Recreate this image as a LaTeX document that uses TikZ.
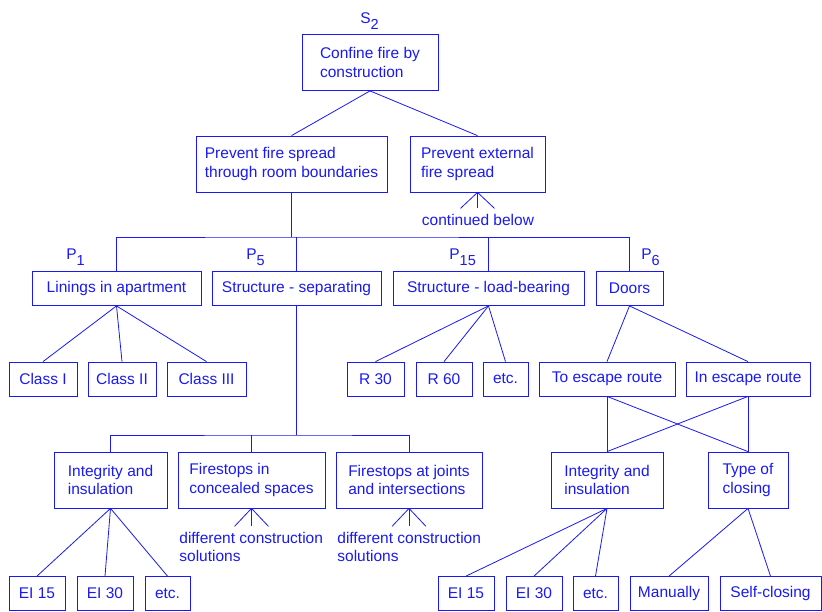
\documentclass[tikz,border=0pt]{standalone}
\usepackage{fontspec}
\setmainfont{Liberation Sans}
\usetikzlibrary{positioning}
\definecolor{fireblue}{RGB}{25,25,245}
\newcommand{\lowsub}[1]{\raisebox{-6pt}{\fontsize{14.5}{14.5}\selectfont #1}}

\begin{document}
\begin{tikzpicture}[x=1pt,y=-1pt,color=fireblue,line width=0.8pt,
    font=\fontsize{15.5}{18.3}\selectfont,
    box/.style={draw,align=left,inner sep=0pt},
    tall/.style={box,minimum height=56pt},
    flat/.style={box,minimum height=34pt},
    tag/.style={inner sep=0pt,anchor=base west}]
  \useasboundingbox (0,0) rectangle (822,611);

  % top of the tree
  \node[tag]                     (s2)      at (360,23)     {S\lowsub{2}};
  \node[tall,minimum width=136pt] (confine) at (370,62.5)   {Confine fire by\\construction};
  \node[tall,minimum width=191pt] (roomb)   at (291.5,164)  {Prevent fire spread\\through room boundaries};
  \node[tall,minimum width=135pt] (extern)  at (477.5,164)  {Prevent external\\fire spread};
  \node[inner sep=0pt]           (contd)   at (478,220)    {continued below};

  % P level
  \node[flat,minimum width=169pt] (linings) at (116.5,288.5) {Linings in apartment};
  \node[flat,minimum width=169pt] (sepa)    at (296.5,288.5) {Structure - separating};
  \node[flat,minimum width=191pt] (loadb)   at (488.5,288.5) {Structure - load-bearing};
  \node[flat,minimum width=67pt]  (doors)   at (629.5,288.5) {Doors};
  \node[tag] (p1)  at (66,259)  {P\lowsub{1}};
  \node[tag] (p5)  at (246,259) {P\lowsub{5}};
  \node[tag] (p15) at (449,259) {P\lowsub{15}};
  \node[tag] (p6)  at (641,259) {P\lowsub{6}};

  \node[flat,minimum width=68pt]  (classI)   at (43,379)    {Class I};
  \node[flat,minimum width=68pt]  (classII)  at (122,379)   {Class II};
  \node[flat,minimum width=79pt]  (classIII) at (206.5,379) {Class III};
  \node[flat,minimum width=57pt]  (r30)      at (375.5,379) {R 30};
  \node[flat,minimum width=56pt]  (r60)      at (444,379)   {R 60};
  \node[flat,minimum width=45pt]  (etcA)     at (505.5,379) {etc.};
  \node[flat,minimum width=136pt] (toesc)    at (607,379)   {To escape route};
  \node[flat,minimum width=124pt] (inesc)    at (748,379)   {In escape route};

  \node[tall,minimum width=113pt] (integL)    at (110.5,480) {Integrity and\\insulation};
  \node[tall,minimum width=147pt] (fireconc)  at (251.5,480) {Firestops in\\concealed spaces};
  \node[tall,minimum width=146pt] (firejoint) at (409,480)   {Firestops at joints\\and intersections};
  \node[tall,minimum width=112pt] (integR)    at (607,480)   {Integrity and\\insulation};
  \node[tall,minimum width=80pt]  (closing)   at (748,480)   {Type of\\closing};
  \node[inner sep=0pt,align=left,anchor=north west] (diffA) at (179,532) {different construction\\solutions};
  \node[inner sep=0pt,align=left,anchor=north west] (diffB) at (337,532) {different construction\\solutions};

  \node[flat,minimum width=56pt]  (ei15L)  at (37,593.5)    {EI 15};
  \node[flat,minimum width=56pt]  (ei30L)  at (105,593.5)   {EI 30};
  \node[flat,minimum width=45pt]  (etcL)   at (167.5,593.5) {etc.};
  \node[flat,minimum width=56pt]  (ei15R)  at (466,593.5)   {EI 15};
  \node[flat,minimum width=56pt]  (ei30R)  at (534,593.5)   {EI 30};
  \node[flat,minimum width=45pt]  (etcR)   at (595.5,593.5) {etc.};
  \node[flat,minimum width=78pt]  (manual) at (669,593.5)   {Manually};
  \node[flat,minimum width=101pt] (selfc)  at (770.5,593.5) {Self-closing};

  % connectors
  \path (confine.south) edge (roomb.north)
                        edge (extern.north);
  \foreach \dx in {-17,0,17}
    \draw (extern.south) -- ++(\dx,16);

  \coordinate (bus1) at (291.5,237);
  \draw (roomb.south) -- (bus1);
  \draw (linings.north) |- (bus1) -| (doors.north);
  \draw (sepa.north) -- (sepa.north |- bus1);
  \draw (loadb.north) -- (loadb.north |- bus1);

  \path (linings.south) edge (classI.north)
                        edge (classII.north)
                        edge (classIII.north)
        (loadb.south)   edge (r30.north)
                        edge (r60.north)
                        edge (etcA.north)
        (doors.south)   edge (toesc.north)
                        edge (inesc.north);

  \coordinate (bus2) at (296.5,435);
  \draw (sepa.south) -- (bus2);
  \draw (integL.north) |- (bus2) -| (firejoint.north);
  \draw (fireconc.north) -- (fireconc.north |- bus2);
  \foreach \dx in {-17,0,17} {
    \draw (fireconc.south) -- ++(\dx,18);
    \draw (firejoint.south) -- ++(\dx,18);
  }

  \path (toesc.south)   edge (integR.north)
                        edge (closing.north)
        (inesc.south)   edge (integR.north)
                        edge (closing.north);

  \path (integL.south)  edge (ei15L.north)
                        edge (ei30L.north)
                        edge (etcL.north)
        (integR.south)  edge (ei15R.north)
                        edge (ei30R.north)
                        edge (etcR.north)
        (closing.south) edge (manual.north)
                        edge (selfc.north);
\end{tikzpicture}
\end{document}
